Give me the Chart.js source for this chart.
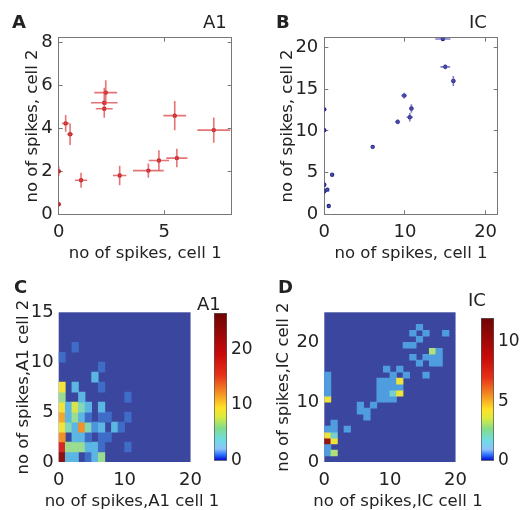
<!DOCTYPE html>
<html lang="en">
<head>
<meta charset="UTF-8">
<title>Spike count pairs, A1 and IC</title>
<script src="https://cdn.jsdelivr.net/npm/chart.js"></script>
<style>
  body { margin: 0; width: 520px; height: 510px; position: relative; overflow: hidden; background: #fff;
         font-family: "DejaVu Sans", sans-serif; color: #222; }
  canvas { position: absolute; }
  .lbl { position: absolute; font-size: 18px; line-height: 18px; white-space: nowrap; }
  .bold { font-weight: bold; }
  .ttl { position: absolute; font-size: 16.5px; line-height: 16.5px; white-space: nowrap; transform: translateX(-50%); }
</style>
</head>
<body>
<canvas id="chartA" width="260" height="270" style="left:0;top:0"></canvas>
<canvas id="chartB" width="260" height="270" style="left:260px;top:0"></canvas>
<canvas id="chartC" width="210" height="250" style="left:0;top:260px"></canvas>
<canvas id="chartD" width="215" height="250" style="left:260px;top:260px"></canvas>
<canvas id="cbarC" width="55" height="190" style="left:205px;top:285px"></canvas>
<canvas id="cbarD" width="50" height="185" style="left:470px;top:290px"></canvas>

<div class="lbl bold" style="left:12px;top:13px">A</div>
<div class="lbl" style="left:203px;top:13px">A1</div>
<div class="lbl bold" style="left:276px;top:13px">B</div>
<div class="lbl" style="left:469px;top:13px">IC</div>
<div class="lbl bold" style="left:14px;top:278px">C</div>
<div class="lbl" style="left:197px;top:295px">A1</div>
<div class="lbl bold" style="left:278px;top:278px">D</div>
<div class="lbl" style="left:468px;top:291px">IC</div>
<div class="ttl" style="left:132px;top:493px">no of spikes,A1 cell 1</div>
<div class="ttl" style="left:398px;top:493px">no of spikes,IC cell 1</div>

<script>
// A: mean spike counts of an A1 cell pair, with error bars
const a1X    = [0, 0, 0.33, 0.54, 1.06, 2.23, 2.16, 2.16, 2.89, 4.25, 4.75, 5.6, 5.5, 7.35];
const a1Y    = [0.47, 2.0, 4.22, 3.72, 1.58, 5.65, 5.18, 4.9, 1.8, 2.03, 2.5, 2.61, 4.58, 3.91];
const a1Xerr = [0.03, 0.05, 0.17, 0.14, 0.29, 0.54, 0.63, 0.4, 0.32, 0.73, 0.48, 0.5, 0.54, 0.78];
const a1Yerr = [0.05, 0.22, 0.39, 0.5, 0.35, 0.58, 0.7, 0.35, 0.45, 0.33, 0.47, 0.43, 0.68, 0.59];

// B: same for an IC cell pair
const icX    = [0, 0, 0, 0, 0.38, 0.97, 0.55, 6.0, 9.1, 9.9, 10.6, 10.8, 14.7, 15.0, 16.0];
const icY    = [12.6, 10.1, 3.55, 2.76, 2.96, 4.75, 1.0, 8.1, 11.1, 14.25, 11.65, 12.7, 21.05, 17.7, 16.0];
const icXerr = [0.1, 0.1, 0.1, 0.1, 0.2, 0.1, 0.1, 0.2, 0.3, 0.35, 0.4, 0.3, 0.94, 0.6, 0.3];
const icYerr = [0.2, 0.2, 0.2, 0.2, 0.1, 0.2, 0.1, 0.2, 0.3, 0.35, 0.5, 0.5, 0.1, 0.3, 0.6];

// C, D: joint count histograms, [count cell 1, count cell 2, trials]
const a1Cells = [
  [0,0,25],[1,0,3],[2,0,3],[4,0,1],[5,0,3],[6,0,6],
  [0,1,18],[1,1,6],[2,1,6],[3,1,6],[4,1,3],[5,1,3],[6,1,1],[10,1,1],
  [0,2,13],[2,2,3],[3,2,3],[4,2,1],[6,2,1],[7,2,1],
  [0,3,9],[1,3,5],[2,3,3],[3,3,13],[4,3,5],[5,3,2],[6,3,3],[8,3,3],[9,3,1],
  [0,4,12],[1,4,3],[2,4,6],[3,4,3],[4,4,1],[6,4,1],[7,4,1],[10,4,1],
  [0,5,9],[1,5,3],[2,5,8],[3,5,5],[4,5,3],[6,5,3],
  [0,6,6],[3,6,3],[10,6,1],
  [0,7,9],[2,7,3],[6,7,1],
  [5,8,3],[6,9,1],[0,10,1],[2,11,1]
];
const icCells = [
  [0,1,1],[0,2,1],[0,3,11],[0,4,4],[0,5,1],[0,10,4],[0,11,1],[0,12,1],[0,13,1],[0,14,1],
  [1,1,3],[1,3,4],[1,4,2],[1,5,1],[1,6,1],
  [3,5,1],[5,8,1],[5,9,1],[6,7,1],[6,8,1],[7,9,1],
  [8,10,1],[8,11,1],[8,12,1],[8,13,1],
  [9,10,1],[9,11,1],[9,12,1],[9,13,1],[9,15,1],
  [10,10,1],[10,11,2],[10,12,1],[10,13,1],[10,14,1],
  [11,11,4],[11,12,1],[11,13,4],[11,15,1],
  [12,14,1],[12,19,1],[13,19,1],[13,17,1],[13,21,1],
  [14,16,1],[14,20,1],[14,22,1],[15,14,1],[15,17,1],[15,21,1],
  [16,16,1],[16,17,1],[16,18,3],[17,16,1],[17,17,1],[17,18,1],[18,21,1]
];

const a1CbarMax = 26.5;
const icCbarMax = 12;

Chart.defaults.font.family = '"DejaVu Sans", sans-serif';
Chart.defaults.color = '#222';

// jet-ish map as it looks in the histograms (zero cells are the navy background)
const cellStops = [
  [0, [59,70,158]], [0.04, [62,110,200]], [0.1, [85,175,232]], [0.17, [120,210,205]],
  [0.22, [150,220,150]], [0.28, [200,230,90]], [0.35, [250,225,50]], [0.5, [240,140,40]],
  [0.68, [215,40,35]], [1, [125,15,15]]
];
const barStops = [
  [0, 'rgb(0,0,200)'], [0.04, 'rgb(40,110,255)'], [0.08, 'rgb(140,195,250)'], [0.14, 'rgb(110,220,230)'],
  [0.22, 'rgb(130,220,140)'], [0.3, 'rgb(220,235,60)'], [0.36, 'rgb(255,225,40)'], [0.45, 'rgb(245,150,35)'],
  [0.58, 'rgb(230,50,25)'], [0.72, 'rgb(200,10,10)'], [1, 'rgb(110,5,5)']
];

function cellColor(t) {
  t = Math.min(1, Math.max(0, t));
  for (let i = 1; i < cellStops.length; i++) {
    const [t1, c1] = cellStops[i];
    const [t0, c0] = cellStops[i - 1];
    if (t <= t1) {
      const f = (t - t0) / (t1 - t0);
      const c = c0.map((v, k) => Math.round(v + (c1[k] - v) * f));
      return `rgb(${c[0]},${c[1]},${c[2]})`;
    }
  }
}

function fixSize(size) {
  return function (scale) {
    if (scale.isHorizontal()) scale.height = size; else scale.width = size;
  };
}

const areaFill = {
  id: 'areaFill',
  beforeDatasetsDraw(chart, args, opts) {
    const a = chart.chartArea;
    chart.ctx.save();
    chart.ctx.fillStyle = opts.color;
    chart.ctx.fillRect(a.left, a.top, a.right - a.left, a.bottom - a.top);
    chart.ctx.restore();
  }
};

function errorSegments(xs, ys, xe, ye, horizontal) {
  const pts = [];
  xs.forEach((x, i) => {
    if (horizontal) pts.push({x: x - xe[i], y: ys[i]}, {x: x + xe[i], y: ys[i]});
    else pts.push({x: x, y: ys[i] - ye[i]}, {x: x, y: ys[i] + ye[i]});
    pts.push({x: x, y: null});
  });
  return pts;
}

function boxAxis(position, max, step, size, labels, pad, title) {
  return {
    type: 'linear', position: position, min: 0, max: max,
    ticks: { stepSize: step, includeBounds: false, display: labels, padding: pad, font: { size: 18 } },
    grid: { drawOnChartArea: false, tickLength: -4, color: '#777' },
    border: { display: true, color: '#777' },
    title: title || { display: false },
    afterFit: fixSize(size)
  };
}

function scatterPanel(id, xs, ys, xe, ye, opt) {
  new Chart(document.getElementById(id), {
    type: 'scatter',
    data: {
      datasets: [
        { data: errorSegments(xs, ys, xe, ye, true), showLine: true, spanGaps: false, pointRadius: 0,
          borderColor: opt.barColor, borderWidth: 1.6 },
        { data: errorSegments(xs, ys, xe, ye, false), showLine: true, spanGaps: false, pointRadius: 0,
          borderColor: opt.barColor, borderWidth: 1.6 },
        { data: xs.map((x, i) => ({x: x, y: ys[i]})), pointRadius: 2.2, borderWidth: 0,
          pointBackgroundColor: opt.dotColor }
      ]
    },
    options: {
      responsive: false, animation: false,
      layout: { padding: opt.padding },
      plugins: { legend: { display: false }, tooltip: { enabled: false } },
      scales: {
        x: boxAxis('bottom', opt.xMax, opt.xStep, opt.xSize, true, 11,
          { display: true, text: 'no of spikes, cell 1', font: { size: 16.5 }, padding: { top: 0, bottom: 6 } }),
        y: boxAxis('left', opt.yMax, opt.yStep, opt.ySize, true, 10,
          { display: true, text: 'no of spikes, cell 2', font: { size: 16.5 }, padding: { top: opt.yTitlePad, bottom: 0 } }),
        x2: boxAxis('top', opt.xMax, opt.xStep, 0, false, 0),
        y2: boxAxis('right', opt.yMax, opt.yStep, 0, false, 0)
      }
    }
  });
}

function heatPanel(id, cells, vmax, opt) {
  new Chart(document.getElementById(id), {
    type: 'bar',
    data: {
      datasets: [{
        data: cells.map(c => ({x: c[0] + 0.5, y: [c[1], c[1] + 1]})),
        backgroundColor: cells.map(c => cellColor(c[2] / vmax)),
        borderWidth: 0, barPercentage: 1, categoryPercentage: 1
      }]
    },
    options: {
      responsive: false, animation: false,
      layout: { padding: opt.padding },
      plugins: { legend: { display: false }, tooltip: { enabled: false }, areaFill: { color: cellColor(0) } },
      scales: {
        x: {
          type: 'linear', offset: false, min: 0, max: opt.xMax,
          ticks: { stepSize: 10, padding: 8, font: { size: 18 } },
          grid: { display: false, drawTicks: false, offset: false }, border: { display: false },
          afterFit: fixSize(48)
        },
        y: {
          type: 'linear', min: 0, max: opt.yMax,
          ticks: { stepSize: opt.yStep, includeBounds: false, padding: 5, font: { size: 18 } },
          grid: { display: false, drawTicks: false }, border: { display: false },
          title: { display: true, text: opt.yTitle, font: { size: 16.5 }, padding: { top: opt.yTitlePad, bottom: 0 } },
          afterFit: fixSize(opt.ySize)
        }
      }
    },
    plugins: [areaFill]
  });
}

function colorbar(id, max, step, padding, size) {
  new Chart(document.getElementById(id), {
    type: 'bar',
    data: {
      labels: [''],
      datasets: [{
        data: [[0, max]],
        backgroundColor: function (ctx) {
          const area = ctx.chart.chartArea;
          if (!area) return 'transparent';
          const g = ctx.chart.ctx.createLinearGradient(0, area.bottom, 0, area.top);
          barStops.forEach(s => g.addColorStop(s[0], s[1]));
          return g;
        },
        borderWidth: 1, borderColor: '#555', borderSkipped: false,
        barPercentage: 1, categoryPercentage: 1
      }]
    },
    options: {
      responsive: false, animation: false,
      layout: { padding: padding },
      plugins: { legend: { display: false }, tooltip: { enabled: false } },
      scales: {
        x: { display: false },
        y: {
          position: 'right', min: 0, max: max,
          ticks: { stepSize: step, includeBounds: false, padding: 4, font: { size: 17 } },
          grid: { display: false, drawTicks: false }, border: { display: false },
          afterFit: fixSize(size)
        }
      }
    }
  });
}

scatterPanel('chartA', a1X, a1Y, a1Xerr, a1Yerr, {
  xMax: 8.2, xStep: 5, yMax: 8.2, yStep: 2,
  xSize: 55.7, ySize: 58.7, yTitlePad: 22.6,
  padding: { top: 37.7, right: 28.3, bottom: 0, left: 0 },
  barColor: 'rgba(220,70,70,0.75)', dotColor: 'rgb(175,20,30)'
});

scatterPanel('chartB', icX, icY, icXerr, icYerr, {
  xMax: 21.5, xStep: 10, yMax: 21.2, yStep: 5,
  xSize: 55.7, ySize: 64.3, yTitlePad: 17.6,
  padding: { top: 37.7, right: 22.3, bottom: 0, left: 0 },
  barColor: 'rgba(80,80,180,0.75)', dotColor: 'rgb(40,40,130)'
});

heatPanel('chartC', a1Cells, a1CbarMax, {
  xMax: 20, yMax: 15, yStep: 5, ySize: 58.7, yTitlePad: 14.1,
  yTitle: 'no of spikes,A1 cell 2',
  padding: { top: 52.3, right: 4.3, bottom: 0, left: 0 }
});

heatPanel('chartD', icCells, icCbarMax, {
  xMax: 20, yMax: 25, yStep: 10, ySize: 64.3, yTitlePad: 14.1,
  yTitle: 'no of spikes,IC cell 2',
  padding: { top: 52.3, right: 3.3, bottom: 0, left: 0 }
});

colorbar('cbarC', a1CbarMax, 10, { top: 28, right: 0, bottom: 13.3, left: 9 }, 33);
colorbar('cbarD', icCbarMax, 5, { top: 28, right: 0, bottom: 13, left: 11 }, 26);
</script>
</body>
</html>
